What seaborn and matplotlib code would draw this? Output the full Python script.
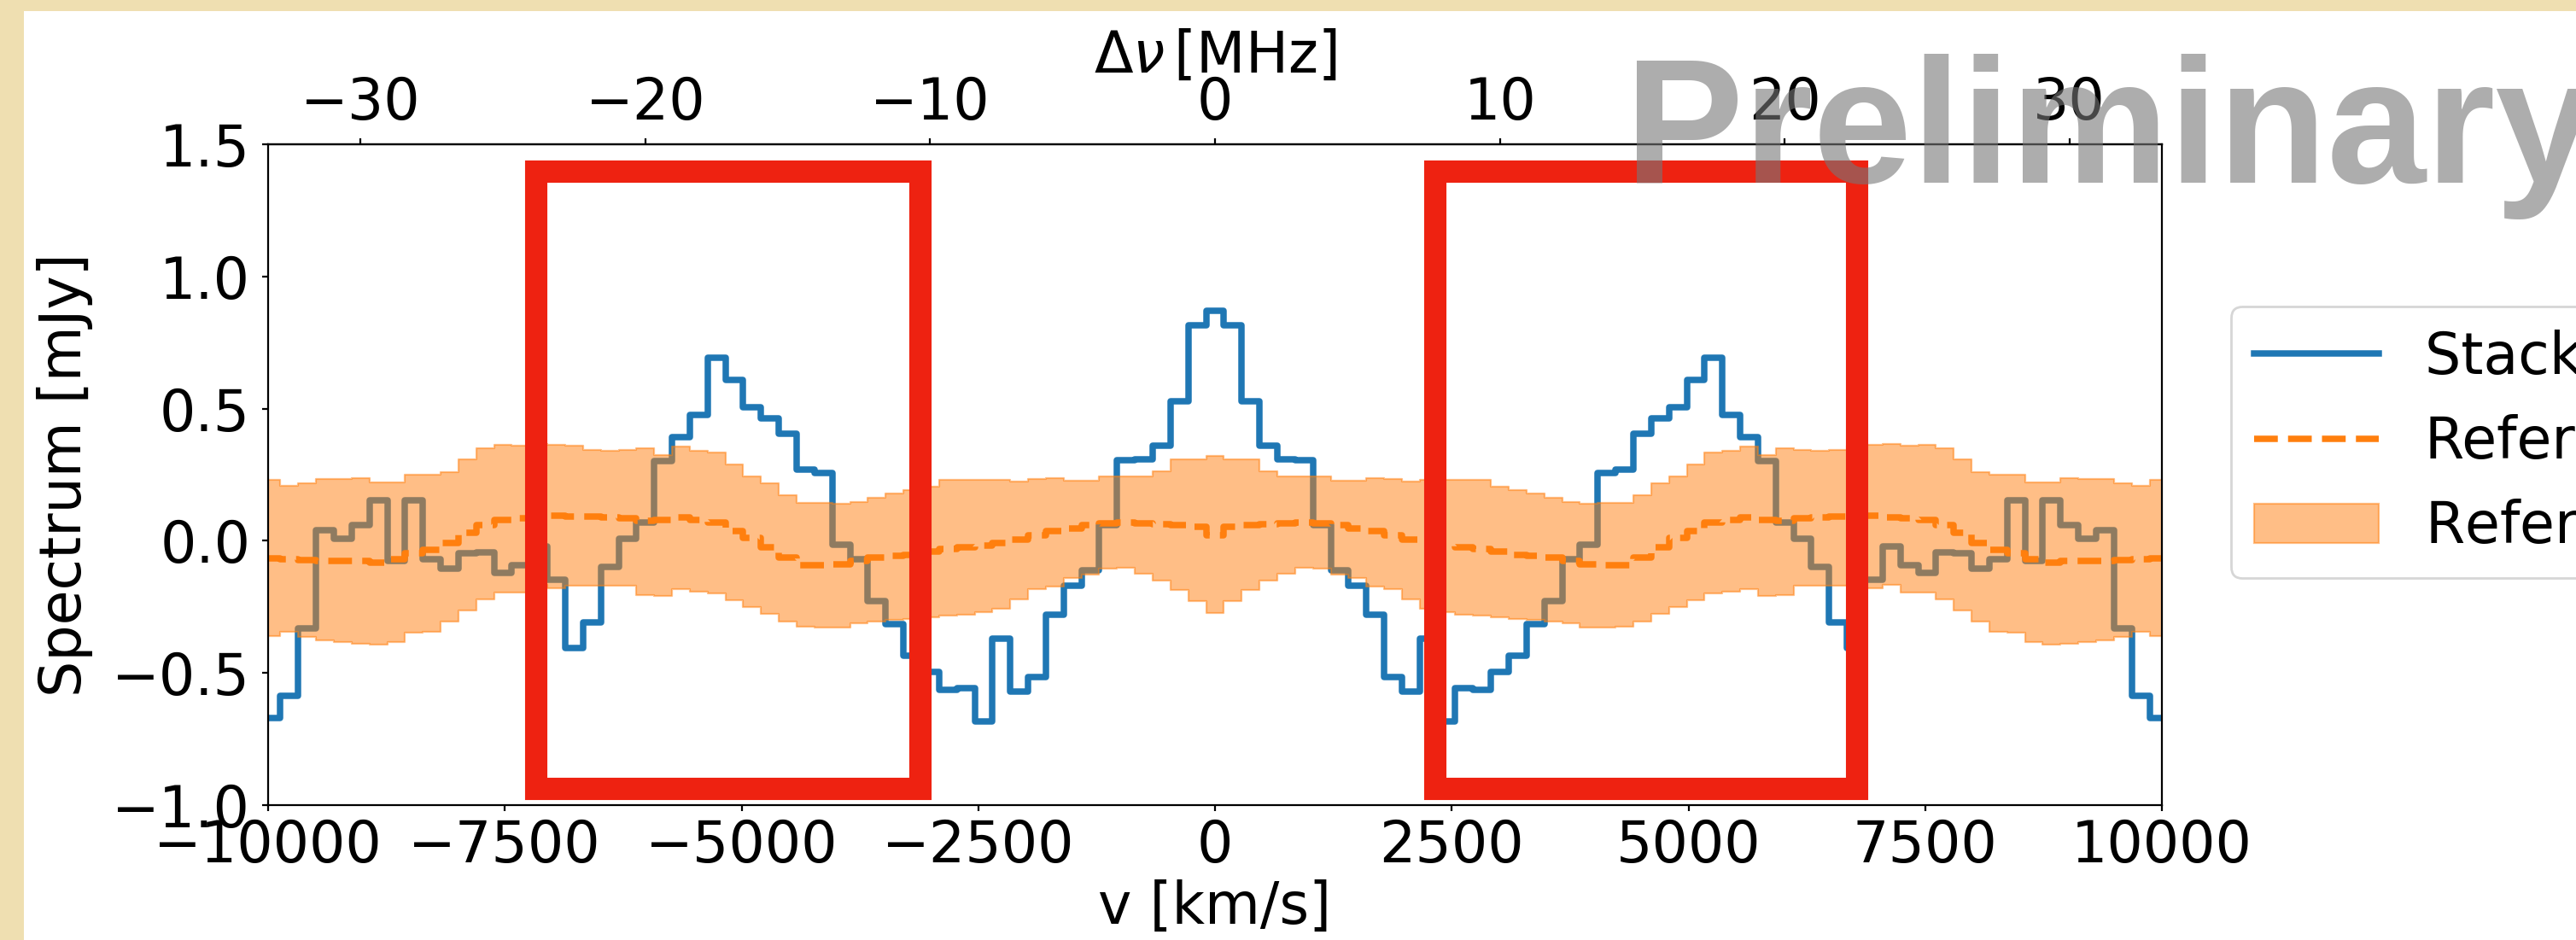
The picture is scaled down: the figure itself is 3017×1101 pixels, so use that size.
import numpy as np
import pandas as pd
import matplotlib
matplotlib.use("Agg")
import matplotlib.pyplot as plt
from matplotlib.patches import Rectangle
import seaborn as sns

# ---------------- data ----------------
channel = list(range(-53, 54))          # channel index, bin centre = index * width
channel_width_kms = 188.0               # km/s per channel
kms_per_mhz = 300.8                     # conversion for the top axis

stacked = [
    -0.67, -0.588, -0.33, 0.04, 0.008, 0.058, 0.153, -0.077, 0.153, -0.071,
    -0.104, -0.048, -0.044, -0.121, -0.093, -0.021, -0.147, -0.405, -0.309, -0.099,
    0.008, 0.069, 0.302, 0.392, 0.476, 0.692, 0.609, 0.505, 0.463, 0.405,
    0.27, 0.256, -0.016, -0.07, -0.228, -0.315, -0.435, -0.496, -0.564, -0.557,
    -0.683, -0.37, -0.57, -0.515, -0.281, -0.17, -0.113, 0.06, 0.305, 0.308,
    0.36, 0.528, 0.815, 0.87, 0.815, 0.528, 0.36, 0.308, 0.305, 0.06,
    -0.113, -0.17, -0.281, -0.515, -0.57, -0.37, -0.683, -0.557, -0.564, -0.496,
    -0.435, -0.315, -0.228, -0.07, -0.016, 0.256, 0.27, 0.405, 0.463, 0.505,
    0.609, 0.692, 0.476, 0.392, 0.302, 0.069, 0.008, -0.099, -0.309, -0.405,
    -0.147, -0.021, -0.093, -0.121, -0.044, -0.048, -0.104, -0.071, 0.153, -0.077,
    0.153, 0.058, 0.008, 0.04, -0.33, -0.588, -0.67,
]

ref_mean = [
    -0.065, -0.07, -0.072, -0.075, -0.077, -0.077, -0.082, -0.07, -0.048, -0.035,
    -0.01, 0.03, 0.06, 0.08, 0.085, 0.09, 0.094, 0.092, 0.091, 0.088,
    0.085, 0.075, 0.08, 0.088, 0.08, 0.07, 0.037, 0.01, -0.025, -0.062,
    -0.093, -0.093, -0.088, -0.075, -0.064, -0.058, -0.053, -0.04, -0.03, -0.023,
    -0.018, -0.01, 0.005, 0.021, 0.037, 0.045, 0.06, 0.065, 0.069, 0.066,
    0.062, 0.06, 0.053, 0.021, 0.053, 0.06, 0.062, 0.066, 0.069, 0.065,
    0.06, 0.045, 0.037, 0.021, 0.005, -0.01, -0.018, -0.023, -0.03, -0.04,
    -0.053, -0.058, -0.064, -0.075, -0.088, -0.093, -0.093, -0.062, -0.025, 0.01,
    0.037, 0.07, 0.08, 0.088, 0.08, 0.075, 0.085, 0.088, 0.091, 0.092,
    0.094, 0.09, 0.085, 0.08, 0.06, 0.03, -0.01, -0.035, -0.048, -0.07,
    -0.082, -0.077, -0.077, -0.075, -0.072, -0.07, -0.065,
]

ref_high = [
    0.23, 0.208, 0.218, 0.233, 0.235, 0.236, 0.22, 0.22, 0.25, 0.25,
    0.26, 0.308, 0.35, 0.363, 0.36, 0.365, 0.363, 0.36, 0.345, 0.34,
    0.344, 0.35, 0.325, 0.357, 0.339, 0.334, 0.29, 0.243, 0.218, 0.172,
    0.143, 0.143, 0.14, 0.147, 0.164, 0.18, 0.192, 0.205, 0.23, 0.23,
    0.23, 0.23, 0.225, 0.233, 0.236, 0.227, 0.227, 0.243, 0.243, 0.243,
    0.263, 0.307, 0.307, 0.32, 0.307, 0.307, 0.263, 0.243, 0.243, 0.243,
    0.227, 0.227, 0.236, 0.233, 0.225, 0.23, 0.23, 0.23, 0.23, 0.205,
    0.192, 0.18, 0.164, 0.147, 0.14, 0.143, 0.143, 0.172, 0.218, 0.243,
    0.29, 0.334, 0.339, 0.357, 0.325, 0.35, 0.344, 0.34, 0.345, 0.36,
    0.363, 0.365, 0.36, 0.363, 0.35, 0.308, 0.26, 0.25, 0.25, 0.22,
    0.22, 0.236, 0.235, 0.233, 0.218, 0.208, 0.23,
]

ref_low = [
    -0.36, -0.344, -0.365, -0.377, -0.383, -0.388, -0.393, -0.383, -0.347, -0.344,
    -0.306, -0.262, -0.222, -0.196, -0.196, -0.168, -0.18, -0.17, -0.17, -0.17,
    -0.17, -0.205, -0.21, -0.182, -0.193, -0.2, -0.225, -0.25, -0.277, -0.305,
    -0.325, -0.327, -0.327, -0.313, -0.305, -0.3, -0.296, -0.291, -0.284, -0.281,
    -0.27, -0.256, -0.22, -0.184, -0.174, -0.141, -0.127, -0.105, -0.103, -0.125,
    -0.15, -0.186, -0.228, -0.273, -0.228, -0.186, -0.15, -0.125, -0.103, -0.105,
    -0.127, -0.141, -0.174, -0.184, -0.22, -0.256, -0.27, -0.281, -0.284, -0.291,
    -0.296, -0.3, -0.305, -0.313, -0.327, -0.327, -0.325, -0.305, -0.277, -0.25,
    -0.225, -0.2, -0.193, -0.182, -0.21, -0.205, -0.17, -0.17, -0.17, -0.17,
    -0.18, -0.168, -0.196, -0.196, -0.222, -0.262, -0.306, -0.344, -0.347, -0.383,
    -0.393, -0.388, -0.383, -0.377, -0.365, -0.344, -0.36,
]

# highlighted windows (velocity range in km/s, flux range in mJy)
box_velocity_ranges = [(-7170, -3115), (2330, 6785)]
box_flux_range = (-0.94, 1.397)

legend_labels = ["Stacked spectrum", "Reference mean", r"Reference $\pm1\sigma$"]
watermark = "Preliminary"

# ---------------- figure ----------------
W, H, DPI = 3017, 1101, 200
FS = 24
fig = plt.figure(figsize=(W / DPI, H / DPI), dpi=DPI, facecolor="#efdfb1")
fig.patches.append(Rectangle((28 / W, 0), 1 - 28 / W, 1 - 13 / H,
                             transform=fig.transFigure, facecolor="white",
                             edgecolor="none", zorder=-10))

ax = fig.add_axes([314 / W, 1 - 943 / H, (2532 - 314) / W, (943 - 169) / H])

v = np.array(channel) * channel_width_kms
edges = np.append(v - channel_width_kms / 2, v[-1] + channel_width_kms / 2)


def ext(a):
    a = np.asarray(a, dtype=float)
    return np.append(a, a[-1])


df = pd.DataFrame({
    "v": edges,
    "stacked": ext(stacked),
    "mean": ext(ref_mean),
    "low": ext(ref_low),
    "high": ext(ref_high),
})

LW = 2.7
sns.lineplot(data=df, x="v", y="stacked", drawstyle="steps-post", color="#1f77b4",
             lw=LW, ax=ax, sort=False, zorder=2.0, legend=False)
sns.lineplot(data=df, x="v", y="mean", drawstyle="steps-post", color="#ff7f0e",
             lw=LW, linestyle="--", ax=ax, sort=False, zorder=2.1, legend=False)
band = ax.fill_between(df["v"], df["low"], df["high"], step="post",
                       color="#ff7f0e", alpha=0.5, lw=0.8, zorder=2.3)

for (v0, v1) in box_velocity_ranges:
    ax.add_patch(Rectangle((v0, box_flux_range[0]), v1 - v0,
                           box_flux_range[1] - box_flux_range[0],
                           fill=False, edgecolor="#ee2211", lw=9.4,
                           joinstyle="miter", zorder=4))

ax.set_xlim(-10000, 10000)
ax.set_ylim(-1.0, 1.5)
ax.set_xlabel("v [km/s]", fontsize=FS, labelpad=2)
ax.set_ylabel("Spectrum [mJy]", fontsize=FS, labelpad=8)
ax.tick_params(axis="both", labelsize=FS, length=2.5)
ax.tick_params(axis="x", pad=3)
ax.tick_params(axis="y", pad=5)

sec = ax.secondary_xaxis("top", functions=(lambda x: x / kms_per_mhz,
                                           lambda f: f * kms_per_mhz))
sec.tick_params(labelsize=FS, length=2.5, pad=3)
sec.set_xlabel(r"$\Delta\nu\,$[MHz]", fontsize=FS, labelpad=1)

lines = ax.get_lines()
fig.legend([lines[0], lines[1], band], legend_labels,
           loc="upper left", bbox_to_anchor=(2613 / W, 1 - 359 / H),
           bbox_transform=fig.transFigure, borderaxespad=0, fontsize=FS,
           handlelength=2.2, framealpha=0.8, edgecolor="0.8")

fig.text(1903 / W, 1 - 214 / H, watermark, fontsize=75, fontweight="bold",
         family="Liberation Sans", color="#777777", alpha=0.6,
         ha="left", va="baseline", zorder=10)

fig.savefig("out.png", dpi=DPI, facecolor=fig.get_facecolor())
